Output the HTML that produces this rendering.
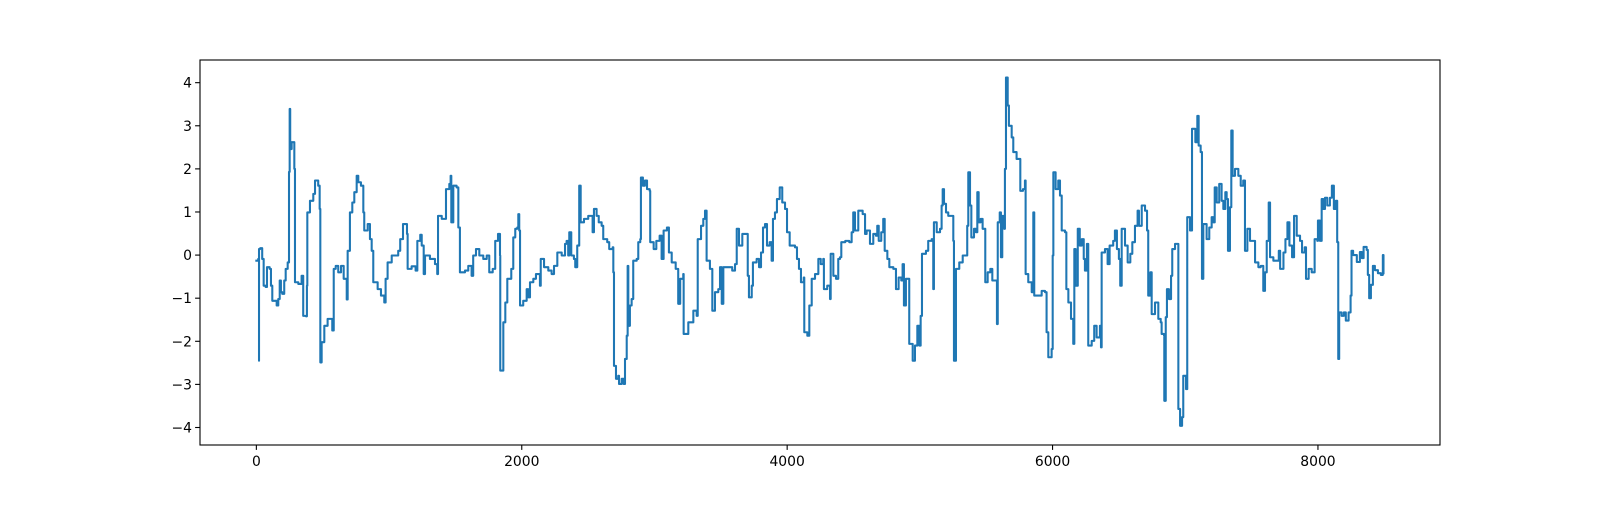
<!DOCTYPE html>
<html><head><meta charset="utf-8"><style>
html,body{margin:0;padding:0;background:#fff;}
svg text{font-family:"DejaVu Sans","Liberation Sans",sans-serif;font-size:13.9px;fill:#000;}
</style></head><body>
<svg id="chart" width="1600" height="500" xmlns="http://www.w3.org/2000/svg">
<rect x="0" y="0" width="1600" height="500" fill="#fff"/>
<g id="plot"></g>
</svg>
<script>
const xTicks = [0, 2000, 4000, 6000, 8000];
const yTicks = [-4, -3, -2, -1, 0, 1, 2, 3, 4];
const seriesX = [0,14,20,20,29,44,55,70,80,100,110,120,153,165,176,185,195,210,221,236,246,251,255,266,286,291,316,341,353,374,381,384,404,429,442,466,477,482,492,512,537,562,572,583,598,617,638,658,681,688,705,723,738,756,768,788,806,813,839,856,869,881,914,939,964,974,989,1020,1069,1084,1105,1135,1140,1170,1200,1213,1235,1246,1261,1271,1308,1346,1359,1363,1369,1397,1419,1429,1454,1464,1469,1484,1509,1522,1534,1572,1597,1622,1634,1655,1680,1710,1736,1755,1781,1800,1821,1836,1838,1861,1876,1891,1921,1936,1951,1966,1974,1981,1987,2011,2037,2049,2062,2087,2107,2137,2143,2168,2200,2225,2243,2268,2301,2326,2338,2350,2358,2373,2393,2403,2418,2433,2444,2469,2501,2534,2544,2564,2580,2602,2614,2644,2659,2685,2690,2695,2710,2727,2733,2753,2768,2778,2791,2798,2803,2815,2828,2840,2866,2878,2893,2898,2913,2928,2944,2964,2968,2994,3014,3039,3054,3069,3094,3109,3130,3160,3179,3194,3217,3220,3255,3293,3318,3326,3351,3368,3381,3393,3418,3436,3456,3481,3494,3507,3519,3556,3586,3607,3620,3637,3662,3692,3703,3712,3733,3742,3770,3788,3803,3818,3833,3848,3868,3883,3893,3908,3923,3944,3963,3984,3999,4019,4059,4074,4089,4104,4125,4129,4152,4167,4185,4210,4235,4253,4272,4277,4302,4323,4328,4348,4368,4385,4398,4408,4438,4468,4486,4498,4511,4536,4569,4587,4599,4624,4649,4669,4679,4690,4709,4724,4735,4755,4770,4800,4820,4840,4860,4870,4880,4895,4916,4920,4946,4963,4981,4996,5006,5016,5046,5063,5089,5101,5106,5127,5152,5164,5172,5182,5197,5214,5240,5252,5257,5272,5297,5323,5348,5357,5365,5378,5388,5408,5423,5433,5443,5458,5473,5493,5511,5531,5546,5561,5581,5587,5602,5611,5621,5636,5641,5649,5662,5671,5692,5704,5729,5749,5757,5777,5792,5797,5817,5843,5855,5862,5892,5918,5943,5955,5968,5993,6001,6006,6023,6043,6056,6069,6094,6104,6119,6139,6156,6164,6174,6190,6205,6220,6235,6244,6259,6269,6295,6314,6332,6357,6365,6370,6395,6415,6430,6457,6470,6485,6500,6510,6521,6546,6566,6586,6601,6621,6641,6651,6672,6697,6712,6721,6737,6747,6772,6797,6815,6822,6840,6842,6853,6862,6877,6893,6902,6923,6935,6948,6948,6961,6976,6985,7006,7015,7036,7051,7066,7076,7091,7101,7116,7126,7136,7161,7181,7199,7211,7222,7237,7256,7274,7287,7302,7312,7322,7337,7347,7357,7375,7400,7418,7437,7450,7468,7488,7513,7526,7551,7569,7588,7601,7614,7629,7639,7664,7690,7705,7715,7740,7755,7770,7785,7805,7820,7835,7840,7865,7880,7900,7910,7930,7953,7970,7975,7995,8000,8015,8028,8040,8053,8070,8090,8105,8120,8135,8145,8153,8160,8178,8195,8210,8231,8246,8253,8265,8293,8316,8331,8344,8367,8376,8386,8399,8414,8429,8452,8474,8489,8494];
const seriesY = [-0.13,-0.09,-2.45,0.14,0.16,-0.09,-0.71,-0.74,-0.28,-0.32,-0.71,-1.06,-1.17,-1.02,-0.59,-0.86,-0.90,-0.59,-0.32,-0.17,1.93,3.39,2.46,2.62,2.00,-0.63,-0.67,-0.48,-1.41,-1.42,-0.71,0.99,1.26,1.42,1.73,1.61,1.07,-2.49,-2.02,-1.64,-1.48,-1.48,-1.75,-0.32,-0.25,-0.40,-0.25,-0.55,-1.03,0.10,0.99,1.22,1.46,1.84,1.69,1.61,0.99,0.57,0.72,0.37,0.10,-0.63,-0.79,-0.94,-1.10,-0.55,-0.17,-0.01,0.10,0.37,0.72,0.49,-0.32,-0.26,-0.36,0.33,0.47,0.22,-0.44,-0.01,-0.09,-0.21,-0.21,-0.44,0.91,0.84,0.84,1.53,1.65,1.84,0.76,1.61,1.57,0.64,-0.40,-0.36,-0.25,-0.48,-0.01,0.14,-0.01,-0.09,-0.01,-0.40,-0.32,0.33,0.49,-0.01,-2.68,-1.56,-1.10,-0.55,-0.32,0.41,0.61,0.64,0.95,0.57,-1.17,-1.06,-0.79,-0.98,-0.63,-0.55,-0.44,-0.71,-0.09,-0.28,-0.36,-0.44,-0.25,0.06,-0.01,0.26,0.33,-0.01,0.53,-0.01,-0.09,-0.28,0.22,1.61,0.76,0.84,0.91,0.53,1.07,0.91,0.76,0.68,0.37,0.30,0.14,0.18,-0.40,-2.57,-2.87,-2.80,-2.99,-2.87,-2.99,-2.41,-1.87,-0.25,-1.64,-1.17,-1.02,-0.13,-0.09,0.30,0.37,1.80,1.61,1.73,1.53,1.49,0.30,0.14,0.33,0.45,-0.09,0.57,0.64,0.06,-0.17,-0.32,-1.13,-0.55,-0.44,-1.83,-1.56,-1.29,-1.41,0.37,0.68,0.84,1.03,-0.13,-0.32,-1.29,-0.86,-0.79,-0.28,-1.13,-0.28,-0.28,-0.36,-0.21,0.61,0.22,0.49,0.49,-0.48,-0.98,-0.71,-0.17,-0.09,-0.28,0.06,0.64,0.72,0.22,0.30,-0.13,0.84,0.99,1.30,1.57,1.22,1.07,0.53,0.22,0.18,-0.09,-0.32,-0.63,-0.52,-1.79,-1.87,-1.17,-0.55,-0.44,-0.09,-0.21,-0.09,-0.79,-0.71,-1.02,0.03,-0.48,-0.55,-0.09,-0.05,0.30,0.33,0.30,0.53,0.99,0.57,1.03,0.95,0.49,0.57,0.26,0.49,0.45,0.68,0.33,0.53,0.84,0.10,-0.09,-0.28,-0.32,-0.79,-0.52,-0.59,-0.21,-1.17,-0.55,-0.55,-2.06,-2.45,-2.10,-1.64,-2.10,-1.41,0.03,0.10,0.33,0.37,-0.79,0.76,0.53,0.61,1.15,1.53,1.19,0.99,0.91,0.91,0.33,-2.45,-0.32,-0.17,-0.01,-0.01,0.68,1.92,1.15,0.41,0.61,0.53,1.46,0.76,0.84,0.61,-0.63,-0.40,-0.32,-0.59,-0.59,-1.60,0.76,0.99,-0.05,0.91,0.61,2.00,4.12,3.47,3.00,2.73,2.39,2.23,2.23,1.49,1.53,1.73,-0.44,-0.63,-0.86,0.99,-0.94,-0.94,-0.83,-0.86,-1.79,-2.37,-2.18,-0.01,1.92,1.53,1.73,1.38,0.57,0.53,-0.79,-1.10,-1.48,-2.06,0.14,-0.71,0.61,0.22,0.37,-0.09,-0.36,0.26,-2.10,-1.99,-1.64,-1.91,-1.64,-2.14,0.06,0.14,-0.21,0.22,0.33,0.57,0.14,-0.09,-0.71,0.61,0.22,-0.17,0.03,0.30,0.68,1.03,0.68,1.15,1.03,0.57,-0.94,-0.40,-1.37,-1.10,-1.48,-1.56,-1.83,-1.87,-3.38,-1.44,-0.79,-1.02,-0.48,0.14,0.26,0.26,-0.67,-3.57,-3.96,-3.76,-2.80,-3.11,0.88,0.57,2.93,2.93,2.62,3.23,2.54,2.39,-0.55,0.72,0.37,0.64,0.88,0.76,1.57,1.22,1.65,1.26,1.07,1.46,1.30,0.10,1.11,2.89,1.84,2.00,1.84,1.61,1.73,0.10,0.61,0.33,0.33,-0.17,-0.28,-0.25,-0.83,-0.40,0.33,1.22,-0.05,-0.13,-0.13,0.10,-0.32,0.06,0.37,0.76,0.22,-0.05,0.91,0.91,0.45,0.33,0.06,0.18,-0.55,-0.32,-0.40,-0.40,0.37,0.33,0.80,0.33,1.30,1.07,1.33,1.15,1.33,1.61,1.07,1.26,0.30,-2.41,-1.33,-1.41,-1.33,-1.52,-1.33,-0.94,0.10,0.00,-0.16,0.07,-0.07,0.19,0.12,-0.46,-1.00,-0.69,-0.25,-0.35,-0.42,-0.46,0.00,-0.42];

const L=200,R=1440,T=60,B=445;
const xMin=-424.75,xMax=8919.75,yMin=-4.406,yMax=4.526;
function sx(v){return L+(v-xMin)/(xMax-xMin)*(R-L);}
function sy(v){return B-(v-yMin)/(yMax-yMin)*(B-T);}
const NS="http://www.w3.org/2000/svg";
const g=document.getElementById('plot');
function mk(tag,attrs){const e=document.createElementNS(NS,tag);for(const k in attrs)e.setAttribute(k,attrs[k]);return e;}

let d='';
for(let i=0;i<seriesX.length;i++){
  const x=sx(seriesX[i]).toFixed(2), y=sy(seriesY[i]).toFixed(2);
  if(i===0){d+='M'+x+' '+y;}
  else{d+='L'+x+' '+sy(seriesY[i-1]).toFixed(2)+'L'+x+' '+y;}
}
const line=mk('path',{d:d,fill:'none',stroke:'#1f77b4','stroke-width':'2.08','stroke-linejoin':'round','stroke-linecap':'square'});


g.appendChild(line);

const frame=mk('rect',{x:L,y:T,width:R-L,height:B-T,fill:'none',stroke:'#000','stroke-width':'1.1'});


g.appendChild(frame);

xTicks.forEach(v=>{
  const x=sx(v);
  const t=mk('line',{x1:x,x2:x,y1:B,y2:B+4.9,stroke:'#000','stroke-width':'1.1'});
  
  
  g.appendChild(t);
  const lb=mk('text',{x:x,y:B+21,'text-anchor':'middle'});
  lb.textContent=String(v);
  
  
  g.appendChild(lb);
});
yTicks.forEach(v=>{
  const y=sy(v);
  const t=mk('line',{x1:L-4.9,x2:L,y1:y,y2:y,stroke:'#000','stroke-width':'1.1'});
  
  
  g.appendChild(t);
  const lb=mk('text',{x:L-8,y:y+5,'text-anchor':'end'});
  lb.textContent=(v<0?'\u2212':'')+Math.abs(v);
  
  
  g.appendChild(lb);
});
</script>
</body></html>
